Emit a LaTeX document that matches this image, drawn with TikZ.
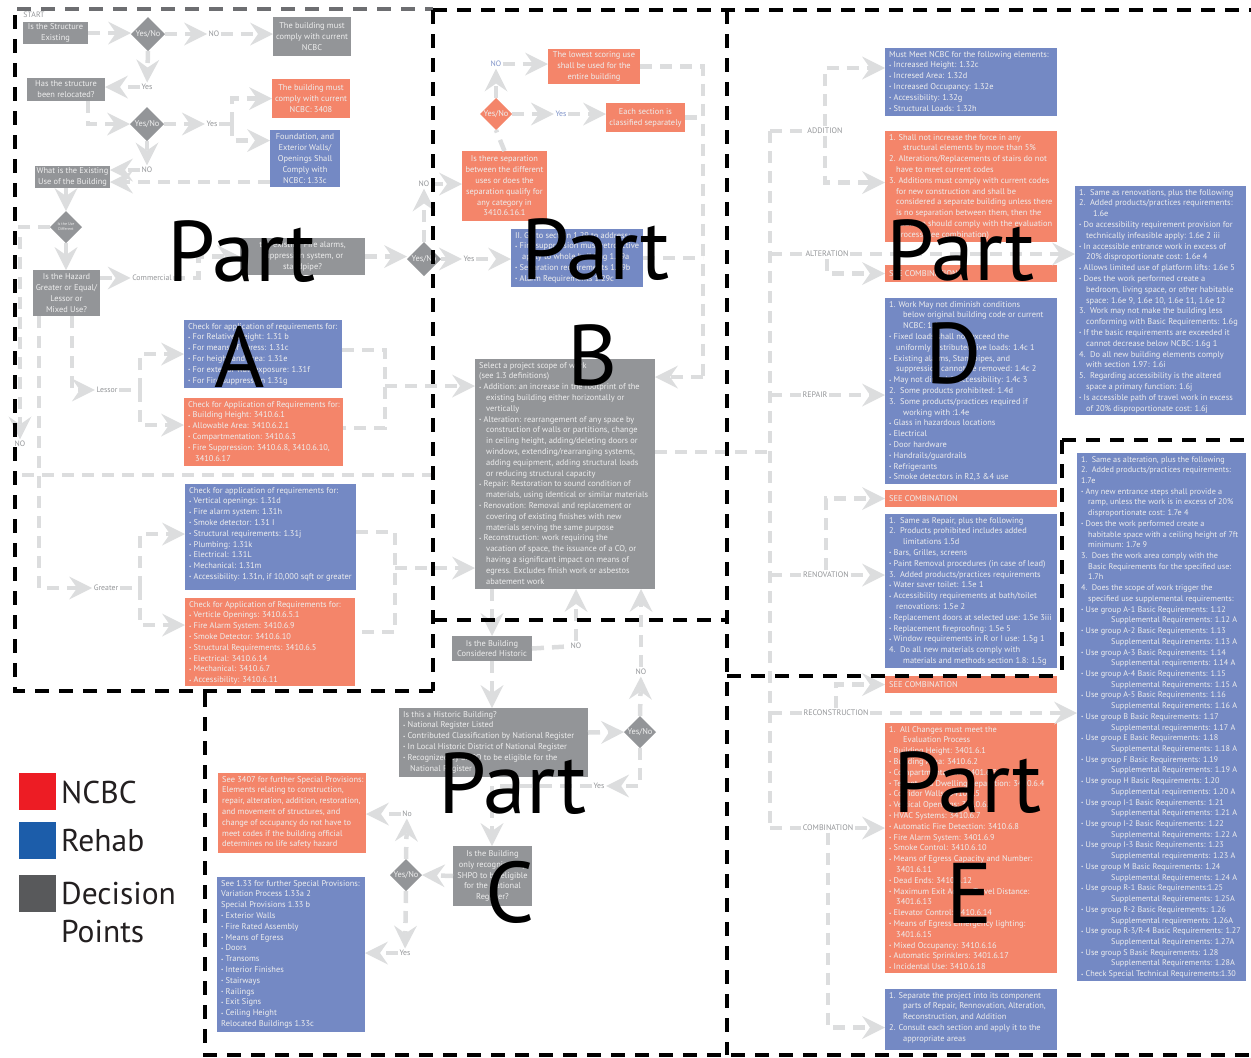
\documentclass[tikz,border=0pt]{standalone}
\usepackage{fontspec}
\setmainfont{PT Sans}
\usetikzlibrary{shapes.geometric,arrows.meta,calc}
\definecolor{dgray}{HTML}{939598}
\definecolor{orng}{HTML}{F4856A}
\definecolor{blu}{HTML}{7489C4}
\definecolor{boxtext}{HTML}{EEEEEE}
\definecolor{labgray}{HTML}{939598}
\definecolor{labblue}{HTML}{7F93C9}
\definecolor{flowgray}{HTML}{DCDDDE}
\definecolor{ncbcred}{HTML}{ED1C24}
\definecolor{rehabblue}{HTML}{1C5DAA}
\definecolor{decgray}{HTML}{58595B}
\definecolor{legtext}{HTML}{231F20}
\definecolor{topgray}{HTML}{6D6E71}
\newcommand\tsz{\fontsize{8.4}{10.8}\selectfont}
\newcommand\bu{\raisebox{0.6pt}{\fontsize{5}{5}\selectfont\textbullet}\ }
\newcommand\ind{\hspace*{7pt}}
\newcommand\rb[6]{\node[bx, fill=#2, minimum width=#5pt, minimum height=#6pt] (#1) at (#3,#4) {};}
\newcommand\tb[2]{\node[tx] (#1t) at ([shift={(4pt,-3pt)}]#1.north west) {#2};}
\newcommand\tcb[2]{\node[tc] (#1t) at (#1.center) {#2};}
\newcommand\tlc[2]{\node[tx, anchor=west] (#1t) at ([xshift=4pt]#1.west) {#2};}
\begin{document}
\begin{tikzpicture}[x=1pt,y=-1pt,
  bx/.style={inner sep=0pt, outer sep=0pt, anchor=north west, draw=none},
  tx/.style={inner sep=0pt, anchor=north west, align=left, text=boxtext, font=\tsz},
  tc/.style={inner sep=0pt, align=center, text=boxtext, font=\tsz},
  dia/.style={diamond, inner sep=0pt, outer sep=0pt, minimum width=34pt, minimum height=34pt},
  lab/.style={font=\fontsize{7.8}{9}\selectfont, text=labgray, fill=white, inner sep=1.5pt},
  slab/.style={font=\fontsize{8}{9}\selectfont, text=labgray, fill=white, inner sep=1.5pt},
  flowline/.style={draw=flowgray, line width=4.5pt, dash pattern=on 12pt off 8pt},
  flow/.style={flowline, -{Stealth[length=23pt,width=23pt,inset=8pt,line width=0pt]}},
  pborder/.style={draw=black, line width=4pt, dash pattern=on 14pt off 10pt},
  big/.style={font=\fontsize{86}{86}\selectfont, text=black, inner sep=0pt},
  leg/.style={font=\fontsize{31.5}{34}\selectfont, text=legtext, inner sep=0pt, anchor=west}]
\useasboundingbox (0,0) rectangle (1251,1058);

% ---------------- Part A boxes ----------------
\rb{bExist}{dgray}{23}{22}{65}{22}
\tcb{bExist}{Is the Structure\\Existing}
\rb{bNcbc}{dgray}{273}{17}{78}{39}
\tcb{bNcbc}{The building must\\comply with current\\NCBC}
\rb{bReloc}{dgray}{27}{78}{78}{23}
\tcb{bReloc}{Has the structure\\been relocated?}
\rb{bThree}{orng}{272}{79}{78}{39}
\tcb{bThree}{The building must\\comply with current\\NCBC: 3408}
\rb{bFound}{blu}{270}{130}{70}{57}
\tcb{bFound}{Foundation, and\\Exterior Walls/\\Openings Shall\\Comply with\\NCBC: 1.33c}
\rb{bUse}{dgray}{35}{166}{75}{22}
\tcb{bUse}{What is the Existing\\Use of the Building}
\rb{bHaz}{dgray}{33}{270}{67}{46}
\tcb{bHaz}{Is the Hazard\\Greater or Equal/\\Lessor or\\Mixed Use?}
\rb{bFire}{dgray}{240}{238}{125}{37}
\tcb{bFire}{the existing Fire alarms,\\suppression system, or\\standpipe?}
\rb{bLB}{blu}{184}{320}{158}{68}
\tb{bLB}{Check for application of requirements for:\\
\bu For Relative Height: 1.31 b\\
\bu For means of egress: 1.31c\\
\bu For height and area: 1.31e\\
\bu For exterior wall exposure: 1.31f\\
\bu For Fire suppression 1.31g}
\rb{bLO}{orng}{184}{398}{159}{68}
\tb{bLO}{Check for Application of Requirements for:\\
\bu Building Height: 3410.6.1\\
\bu Allowable Area: 3410.6.2.1\\
\bu Compartmentation: 3410.6.3\\
\bu Fire Suppression: 3410.6.8, 3410.6.10,\\
\ind 3410.6.17}
\rb{bGB}{blu}{185}{484}{171}{106}
\tb{bGB}{Check for application of requirements for:\\
\bu Vertical openings: 1.31d\\
\bu Fire alarm system: 1.31h\\
\bu Smoke detector: 1.31 I\\
\bu Structural requirements: 1.31j\\
\bu Plumbing: 1.31k\\
\bu Electrical: 1.31L\\
\bu Mechanical: 1.31m\\
\bu Accessibility: 1.31n, if 10,000 sqft or greater}
\rb{bGO}{orng}{185}{598}{170}{88}
\tb{bGO}{Check for Application of Requirements for:\\
\bu Verticle Openings: 3410.6.5.1\\
\bu Fire Alarm System: 3410.6.9\\
\bu Smoke Detector: 3410.6.10\\
\bu Structural Requirements: 3410.6.5\\
\bu Electrical: 3410.6.14\\
\bu Mechanical: 3410.6.7\\
\bu Accessibility: 3410.6.11}

\node[dia, fill=dgray] (d1) at (148,34) {};
\node[tc] (d1t) at (d1.center) {Yes/No};
\node[dia, fill=dgray] (d2) at (147,124) {};
\node[tc] (d2t) at (d2.center) {Yes/No};
\node[dia, fill=dgray, minimum width=32pt, minimum height=32pt] (d3) at (66,227) {};
\node[tc, font=\fontsize{4}{5}\selectfont] (d3t) at (d3.center) {Is the Use\\Different};
\node[dia, fill=dgray] (d4) at (424,259) {};
\node[tc] (d4t) at (d4.center) {Yes/No};

% ---------------- Part B boxes ----------------
\node[dia, fill=orng, minimum width=32pt, minimum height=32pt] (d5) at (496,114) {};
\node[tc] (d5t) at (d5.center) {Yes/No};
\rb{bLow}{orng}{548}{49}{92}{35}
\tcb{bLow}{The lowest scoring use\\shall be used for the\\entire building}
\rb{bEach}{orng}{606}{103}{79}{29}
\tcb{bEach}{Each section is\\classified separately}
\rb{bSep}{orng}{462}{151}{85}{70}
\tcb{bSep}{Is there separation\\between the different\\uses or does the\\separation qualify for\\any category in\\3410.6.16.1}
\rb{bGo}{blu}{511}{229}{132}{58}
\tb{bGo}{II. Go to section 1.29 to address:\\
\bu Fire suppression must retroactive\\
\ind apply to whole building 1.29a\\
\bu Separation requirements 1.29b\\
\bu Alarm Requirements 1.29c}
\rb{bScope}{dgray}{475}{359}{180}{230}
\tb{bScope}{Select a project scope of work\\
(see 1.3 definitions)\\
\bu Addition: an increase in the footprint of the\\
\ind existing building either horizontally or\\
\ind vertically\\
\bu Alteration: rearrangement of any space by\\
\ind construction of walls or partitions, change\\
\ind in ceiling height, adding/deleting doors or\\
\ind windows, extending/rearranging systems,\\
\ind adding equipment, adding structural loads\\
\ind or reducing structural capacity\\
\bu Repair: Restoration to sound condition of\\
\ind materials, using identical or similar materials\\
\bu Renovation: Removal and replacement or\\
\ind covering of existing finishes with new\\
\ind materials serving the same purpose\\
\bu Reconstruction: work requiring the\\
\ind vacation of space, the issuance of a CO, or\\
\ind having a significant impact on means of\\
\ind egress. Excludes finish work or asbestos\\
\ind abatement work}

% ---------------- Part C boxes ----------------
\rb{bHist}{dgray}{452}{636}{80}{25}
\tcb{bHist}{Is the Building\\Considered Historic}
\rb{bHistQ}{dgray}{399}{708}{189}{69}
\tb{bHistQ}{Is this a Historic Building?\\
\bu National Register Listed\\
\bu Contributed Classification by National Register\\
\bu In Local Historic District of National Register\\
\bu Recognized by SHPO to be eligible for the\\
\ind National Register}
\node[dia, fill=dgray, minimum width=32pt, minimum height=32pt] (d6) at (640,732) {};
\node[tc] (d6t) at (d6.center) {Yes/No};
\rb{bShpo}{dgray}{453}{846}{79}{60}
\tcb{bShpo}{Is the Building\\only recognized by\\SHPO to be eligible\\for the National\\Register?}
\node[dia, fill=dgray, minimum width=32pt, minimum height=32pt] (d7) at (406,875) {};
\node[tc] (d7t) at (d7.center) {Yes/No};
\rb{bSeven}{orng}{218}{773}{148}{80}
\tb{bSeven}{See 3407 for further Special Provisions:\\
Elements relating to construction,\\
repair, alteration, addition, restoration,\\
and movement of structures, and\\
change of occupancy do not have to\\
meet codes if the building official\\
determines no life safety hazard}
\rb{bOne}{blu}{217}{877}{148}{155}
\tb{bOne}{See 1.33 for further Special Provisions:\\
Variation Process 1.33a 2\\
Special Provisions 1.33 b\\
\bu Exterior Walls\\
\bu Fire Rated Assembly\\
\bu Means of Egress\\
\bu Doors\\
\bu Transoms\\
\bu Interior Finishes\\
\bu Stairways\\
\bu Railings\\
\bu Exit Signs\\
\bu Ceiling Height\\
Relocated Buildings 1.33c}

% ---------------- Part D boxes ----------------
\rb{bAdd}{blu}{885}{48}{172}{68}
\tb{bAdd}{Must Meet NCBC for the following elements:\\
\bu Increased Height: 1.32c\\
\bu Incresed Area: 1.32d\\
\bu Increased Occupancy: 1.32e\\
\bu Accessibility: 1.32g\\
\bu Structural Loads: 1.32h}
\rb{bAddo}{orng}{885}{131}{172}{111}
\tb{bAddo}{1. Shall not increase the force in any\\
\ind\ind structural elements by more than 5\%\\
2. Alterations/Replacements of stairs do not\\
\ind have to meet current codes\\
3. Additions must comply with current codes\\
\ind for new construction and shall be\\
\ind considered a separate building unless there\\
\ind is no separation between them, then the\\
\ind addition should comply with the evaluation\\
\ind process (see combination)}
\rb{bSca}{orng}{885}{265}{172}{17}
\tlc{bSca}{SEE COMBINATION}
\rb{bRep}{blu}{885}{298}{172}{186}
\tb{bRep}{1. Work May not diminish conditions\\
\ind\ind below original building code or current\\
\ind\ind NCBC: 1.4c\\
\bu Fixed loads shall not exceed the\\
\ind uniformly distributed live loads: 1.4c 1\\
\bu Existing alarms, Standpipes, and\\
\ind suppression cannot be removed: 1.4c 2\\
\bu May not diminish accessibility: 1.4c 3\\
2.\ \ Some products prohibited: 1.4d\\
3.\ \ Some products/practices required if\\
\ind\ind working with :1.4e\\
\bu Glass in hazardous locations\\
\bu Electrical\\
\bu Door hardware\\
\bu Handrails/guardrails\\
\bu Refrigerants\\
\bu Smoke detectors in R2,3 \&4 use}
\rb{bScb}{orng}{885}{490}{172}{17}
\tlc{bScb}{SEE COMBINATION}
\rb{bRen}{blu}{885}{514}{172}{154}
\tb{bRen}{1.\ \ Same as Repair, plus the following\\
2.\ \ Products prohibited includes added\\
\ind\ind limitations 1.5d\\
\bu Bars, Grilles, screens\\
\bu Paint Removal procedures (in case of lead)\\
3.\ \ Added products/practices requirements\\
\bu Water saver toilet: 1.5e 1\\
\bu Accessibility requirements at bath/toilet\\
\ind renovations: 1.5e 2\\
\bu Replacement doors at selected use: 1.5e 3iii\\
\bu Replacement fireproofing: 1.5e 5\\
\bu Window requirements in R or I use: 1.5g 1\\
4.\ \ Do all new materials comply with\\
\ind\ind materials and methods section 1.8: 1.5g}
\rb{bAlt}{blu}{1075}{186}{171}{229}
\tb{bAlt}{1.\ \ Same as renovations, plus the following\\
2.\ \ Added products/practices requirements:\\
\ind\ind 1.6e\\
\bu Do accessibility requirement provision for\\
\ind technically infeasible apply: 1.6e 2 iii\\
\bu In accessible entrance work in excess of\\
\ind 20\% disproportionate cost: 1.6e 4\\
\bu Allows limited use of platform lifts: 1.6e 5\\
\bu Does the work performed create a\\
\ind bedroom, living space, or other habitable\\
\ind space: 1.6e 9, 1.6e 10, 1.6e 11, 1.6e 12\\
3.\ \ Work may not make the building less\\
\ind conforming with Basic Requirements: 1.6g\\
\bu If the basic requirements are exceeded it\\
\ind cannot decrease below NCBC: 1.6g 1\\
4.\ \ Do all new building elements comply\\
\ind with section 1.97: 1.6i\\
5.\ \ Regarding accessibility is the altered\\
\ind space a primary function: 1.6j\\
\bu Is accessible path of travel work in excess\\
\ind of 20\% disproportionate cost: 1.6j}

% ---------------- Part E boxes ----------------
\rb{bScc}{orng}{885}{676}{172}{17}
\tlc{bScc}{SEE COMBINATION}
\rb{bComb}{orng}{885}{723}{172}{250}
\tb{bComb}{1.\ \ All Changes must meet the\\
\ind\ind Evaluation Process\\
\bu Building Height: 3401.6.1\\
\bu Building Area: 3410.6.2\\
\bu Compartmentation: 3401.6.3\\
\bu Tenant and Dwelling Separation: 3410.6.4\\
\bu Corridor Walls: 3410.6.5\\
\bu Vertical Openings: 3410.6.6\\
\bu HVAC Systems: 3410.6.7\\
\bu Automatic Fire Detection: 3410.6.8\\
\bu Fire Alarm System: 3401.6.9\\
\bu Smoke Control: 3410.6.10\\
\bu Means of Egress Capacity and Number:\\
\ind 3401.6.11\\
\bu Dead Ends: 3410.6.12\\
\bu Maximum Exit Access Travel Distance:\\
\ind 3401.6.13\\
\bu Elevator Control: 3410.6.14\\
\bu Means of Egress Emergency lighting:\\
\ind 3401.6.15\\
\bu Mixed Occupancy: 3410.6.16\\
\bu Automatic Sprinklers: 3401.6.17\\
\bu Incidental Use: 3410.6.18}
\rb{bSepE}{blu}{885}{989}{172}{61}
\tb{bSepE}{1. Separate the project into its component\\
\ind\ind parts of Repair, Rennovation, Alteration,\\
\ind\ind Reconstruction, and Addition\\
2. Consult each section and apply it to the\\
\ind\ind appropriate areas}
\rb{bRec}{blu}{1077}{453}{169}{528}
\node[tx, font=\fontsize{8.2}{10.72}\selectfont] (bRect) at ([shift={(4pt,-3pt)}]bRec.north west) {1.\ \ Same as alteration, plus the following\\
2.\ \ Added products/practices requirements:\\
1.7e\\
\bu Any new entrance steps shall provide a\\
\ind ramp, unless the work is in excess of 20\%\\
\ind disproportionate cost: 1.7e 4\\
\bu Does the work performed create a\\
\ind habitable space with a ceiling height of 7ft\\
\ind minimum: 1.7e 9\\
3.\ \ Does the work area comply with the\\
\ind Basic Requirements for the specified use:\\
\ind 1.7h\\
4.\ \ Does the scope of work trigger the\\
\ind specified use supplemental requirements:\\
\bu Use group A-1 Basic Requirements: 1.12\\
\hspace*{30pt}Supplemental Requirements: 1.12 A\\
\bu Use group A-2 Basic Requirements: 1.13\\
\hspace*{30pt}Supplemental Requirements: 1.13 A\\
\bu Use group A-3 Basic Requirements: 1.14\\
\hspace*{30pt}Supplemental requirements: 1.14 A\\
\bu Use group A-4 Basic Requirements: 1.15\\
\hspace*{30pt}Supplemental Requirements: 1.15 A\\
\bu Use group A-5 Basic Requirements: 1.16\\
\hspace*{30pt}Supplemental Requirements: 1.16 A\\
\bu Use group B Basic Requirements: 1.17\\
\hspace*{30pt}Supplemental requirements: 1.17 A\\
\bu Use group E Basic Requirements: 1.18\\
\hspace*{30pt}Supplemental Requirements: 1.18 A\\
\bu Use group F Basic Requirements: 1.19\\
\hspace*{30pt}Supplemental Requirements: 1.19 A\\
\bu Use group H Basic Requirements: 1.20\\
\hspace*{30pt}Supplemental requirements: 1.20 A\\
\bu Use group I-1 Basic Requirements: 1.21\\
\hspace*{30pt}Supplemental Requirements: 1.21 A\\
\bu Use group I-2 Basic Requirements: 1.22\\
\hspace*{30pt}Supplemental Requirements: 1.22 A\\
\bu Use group I-3 Basic Requirements: 1.23\\
\hspace*{30pt}Supplemental requirements: 1.23 A\\
\bu Use group M Basic Requirements: 1.24\\
\hspace*{30pt}Supplemental Requirements: 1.24 A\\
\bu Use group R-1 Basic Requirements:1.25\\
\hspace*{30pt}Supplemental Requirements: 1.25A\\
\bu Use group R-2 Basic Requirements: 1.26\\
\hspace*{30pt}Supplemental requirements: 1.26A\\
\bu Use group R-3/R-4 Basic Requirements: 1.27\\
\hspace*{30pt}Supplemental Requirements: 1.27A\\
\bu Use group S Basic Requirements: 1.28\\
\hspace*{30pt}Supplemental Requirements: 1.28A\\
\bu Check Special Technical Requirements:1.30};

% ---------------- labels ----------------
\node[lab, fill=none] (lStart) at (34,15) {START};
\node[lab] (lNOa) at (214,34) {NO};
\node[lab] (lYa) at (147,87) {Yes};
\node[lab] (lYb) at (212,124) {Yes};
\node[lab] (lNOb) at (147,170) {NO};
\node[lab] (lNOc) at (20,444) {NO};
\node[lab] (lCom) at (152,278) {Commercial};
\node[lab] (lNOd) at (424,184) {NO};
\node[lab] (lYd) at (469,259) {Yes};
\node[lab] (lLes) at (107,390) {Lessor};
\node[lab] (lGre) at (106,588) {Greater};
\node[lab, text=labblue] (lNOe) at (496,64) {NO};
\node[lab, text=labblue] (lYe) at (561,114) {Yes};
\node[lab] (lNOf) at (576,646) {NO};
\node[lab] (lNOg) at (641,672) {NO};
\node[lab] (lYf) at (599,786) {Yes};
\node[lab] (lNoh) at (407,814) {No};
\node[lab] (lYh) at (405,953) {Yes};
\node[slab] (lAdd) at (825,131) {ADDITION};
\node[slab] (lAlt) at (827,254) {ALTERATION};
\node[slab] (lRep) at (815,395) {REPAIR};
\node[slab] (lRen) at (826,575) {RENOVATION};
\node[slab] (lRec) at (836,713) {RECONSTRUCTION};
\node[slab] (lCmb) at (828,828) {COMBINATION};

% ---------------- connectors Part A ----------------
\draw[flow] (bExist.east) -- (bExist.east -| d1.west);
\draw[flow] (d1.east) -- (lNOa);
\draw[flow] (lNOa) -- (lNOa -| bNcbc.west);
\draw[flow] (d1.south) -- (lYa);
\draw[flow] (lYa) -- (lYa -| bReloc.east);
\draw[flow] ([xshift=22pt]bReloc.south) |- (d2.west);
\draw[flow] (d2.east) -- (lYb);
\coordinate (kA1) at (232,124);
\draw[flowline] (lYb) -- (kA1);
\draw[flow] (kA1) |- (bThree.west);
\draw[flow] (kA1) |- ([yshift=18pt]bFound.west);
\draw[flow] (d2.south) -- (lNOb);
\draw[flow] (lNOb) -- (lNOb -| bUse.east);
\draw[flow] ([yshift=5pt]bFound.south west) -- ([yshift=-5pt]bUse.east);
\draw[flow] (bUse.south -| d3.north) -- (d3.north);
\draw[flow] (d3.south) -- (d3.south |- bHaz.north);
\draw[flow] (d3.west) -| (lNOc);
\draw[flow] ([yshift=15pt]bHaz.east) -- (lCom);
\draw[flow] (lCom.east) -- ++(25,0) |- (bFire.west);
\draw[flow] (bFire.east) -- (bFire.east -| d4.west);
\draw[flow] (d4.north) -- (lNOd);
\draw[flow] (lNOd) -- (lNOd -| bSep.west);
\draw[flow] (d4.east) -- (lYd);
\draw[flow] (lYd) -- (lYd -| bGo.west);
\draw[flow] ([xshift=39pt]bHaz.south west) |- (lLes);
\draw[flow] ([xshift=6pt]bHaz.south west) |- (lGre);
\coordinate (kL) at (140,390);
\draw[flowline] (lLes) -- (kL);
\draw[flow] (kL) |- (bLB.west);
\draw[flow] (kL) |- ([yshift=7pt]bLO.west);
\coordinate (kG) at (140,588);
\draw[flowline] (lGre) -- (kG);
\draw[flow] (kG) |- ([yshift=3pt]bGB.west);
\draw[flow] (kG) |- ([yshift=17pt]bGO.west);
\coordinate (kR1) at (385,386);
\draw[flowline] ([yshift=4pt]bLB.east) -| (kR1) |- ([yshift=4pt]bLO.east);
\draw[flow] (kR1) -- (kR1 -| bScope.west);
\coordinate (kR2) at (395,568);
\draw[flowline] ([yshift=5pt]bGB.east) -| (kR2) |- ([yshift=10pt]bGO.east);
\draw[flow] (kR2) -- (kR2 -| bScope.west);
\coordinate (kS1) at (22,475);
\coordinate (kS2) at (433,475);
\draw[flowline] (kS1) -- (kS2);

% ---------------- connectors Part B ----------------
\draw[flowline] (bSep.north) -- (d5.south);
\draw[flow] (d5.north) -- (lNOe);
\draw[flow] (lNOe) -- (lNOe -| bLow.west);
\draw[flow] (d5.east) -- (lYe);
\draw[flow] (lYe) -- (lYe -| bEach.west);
\coordinate (kB) at (703,377);
\draw[flowline] (bLow.east) -| (kB);
\draw[flowline] (bEach.east) -- (bEach.east -| kB);
\draw[flowline] (bGo.east) -- (bGo.east -| kB);
\draw[flow] (kB) -- (kB -| bScope.east);
\coordinate (kD) at (770,452);
\coordinate (kDt) at (770,131);
\coordinate (kDb) at (770,828);
\draw[flowline] ([yshift=22pt]bScope.east) -- (kD);
\draw[flowline] (kDt) -- (kDb);

% ---------------- connectors Part C ----------------
\draw[flow] (bHist.north |- bScope.south) -- (bHist.north);
\draw[flowline] (bHist.east) -- (lNOf);
\draw[flow] (lNOf) -- (lNOf |- bScope.south);
\draw[flow] (bHist.south) -- (bHist.south |- bHistQ.north);
\draw[flow] ([yshift=10pt]bHistQ.east) -- (d6.west);
\draw[flow] (d6.north) -- (lNOg);
\draw[flow] (lNOg) -- (lNOg |- bScope.south);
\draw[flow] (d6.south) |- (lYf);
\coordinate (kC) at (492,786);
\draw[flowline] (lYf) -- (kC);
\draw[flow] (kC) -- (kC |- bShpo.north);
\draw[flow] (bShpo.west) -- (d7.east);
\draw[flow] (d7.north) -- (lNoh);
\draw[flow] (lNoh) -- (lNoh -| bSeven.east);
\draw[flow] (d7.south) -- (lYh);
\draw[flow] (lYh) -- (lYh -| bOne.east);

% ---------------- connectors Part D / E ----------------
\draw[flowline] (kDt) -- (lAdd);
\draw[flowline] (lAlt -| kD) -- (lAlt);
\draw[flowline] (lRep -| kD) -- (lRep);
\draw[flowline] (lRen -| kD) -- (lRen);
\draw[flowline] (lRec -| kD) -- (lRec);
\draw[flowline] (kDb) -- (lCmb);
\draw[flow] (lAdd.north) |- ([yshift=14pt]bAdd.west);
\draw[flow] (lAdd.south) |- ([yshift=4pt]bAddo.west);
\draw[flow] (lAlt.east) -- (lAlt.east -| bAlt.west);
\draw[flow] (lAlt.south) |- (bSca.west);
\draw[flow] (lRep.east) -- (lRep.east -| bRep.west);
\draw[flow] (lRen.north) |- (bScb.west);
\draw[flow] (lRen.east) -- (lRen.east -| bRen.west);
\draw[flow] (lRec.east) -- (lRec.east -| bRec.west);
\draw[flow] (lRec.north) |- (bScc.west);
\draw[flow] (lCmb.east) -- (lCmb.east -| bComb.west);
\draw[flow] (lCmb.south) |- ([yshift=-8pt]bSepE.west);

% ---------------- part borders ----------------
\draw[pborder, draw=topgray] (17,9) -- (433,9);
\draw[pborder] (433,10) -- (1251,10);
\draw[pborder] (15,15) -- (15,691) -- (433,691);
\draw[pborder] (433,10) -- (433,691);
\draw[pborder] (433,620) -- (727,620);
\draw[pborder] (727,10) -- (727,1055);
\draw[pborder] (205,693) -- (205,1055) -- (1251,1055);
\draw[pborder] (727,676) -- (1062,676);
\draw[pborder] (1062,440) -- (1062,676);
\draw[pborder] (1062,440) -- (1251,440);

% ---------------- legend ----------------
\node[bx, fill=ncbcred, minimum width=37pt, minimum height=37pt] (legA) at (19,773) {};
\node[leg] (legAt) at (61,792) {NCBC};
\node[bx, fill=rehabblue, minimum width=37pt, minimum height=37pt] (legB) at (19,822) {};
\node[leg] (legBt) at (61,841) {Rehab};
\node[bx, fill=decgray, minimum width=37pt, minimum height=37pt] (legC) at (19,875) {};
\node[leg] (legCt) at (61,894) {Decision};
\node[leg] (legDt) at (61,932) {Points};

% ---------------- part letters ----------------
\node[big, anchor=base west] (pA1) at (167,281) {Part};
\node[big, anchor=base] (pA2) at (240,387) {A};
\node[big, anchor=base west] (pB1) at (521,279) {Part};
\node[big, anchor=base] (pB2) at (593,385) {B};
\node[big, anchor=base west] (pD1) at (886,280) {Part};
\node[big, anchor=base] (pD2) at (954,383) {D};
\node[big, anchor=base west] (pC1) at (438,813) {Part};
\node[big, anchor=base] (pC2) at (510,922) {C};
\node[big, anchor=base west] (pE1) at (893,812) {Part};
\node[big, anchor=base] (pE2) at (970,923) {E};
\end{tikzpicture}
\end{document}
